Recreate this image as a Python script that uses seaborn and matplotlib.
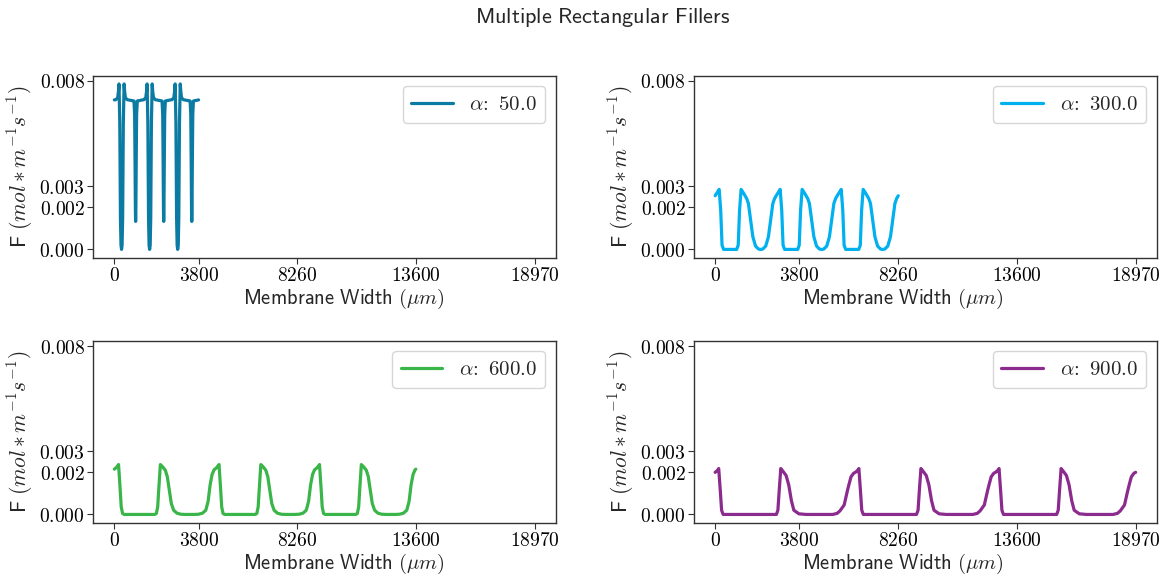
import matplotlib
matplotlib.use("Agg")
import matplotlib.pyplot as plt
import seaborn as sns
import pandas as pd
from matplotlib.ticker import FixedLocator, FixedFormatter

# ---------------- data ----------------
alphas = [50.0, 300.0, 600.0, 900.0]
colors = ["#0b7ba3", "#00b0ef", "#3ab54a", "#8a2b8d"]

x_ticks = [0, 3800, 8260, 13600, 18970]
y_ticks = [0.000, 0.002, 0.003, 0.008]
x_tick_labels = ["0", "3800", "8260", "13600", "18970"]
y_tick_labels = ["0.000", "0.002", "0.003", "0.008"]

x_a50 = [0, 65, 150, 185, 210, 245, 275, 300, 325, 350, 375, 405, 440, 465, 500, 585,
         885, 915, 935, 950, 960, 970, 985, 1005, 1035,
         1267, 1332, 1417, 1452, 1477, 1512, 1542, 1567, 1592, 1617, 1642, 1672, 1707, 1732, 1767, 1852,
         2152, 2182, 2202, 2217, 2227, 2237, 2252, 2272, 2302,
         2533, 2598, 2683, 2718, 2743, 2778, 2808, 2833, 2858, 2883, 2908, 2938, 2973, 2998, 3033, 3118,
         3418, 3448, 3468, 3483, 3493, 3503, 3518, 3538, 3568, 3800]
F_a50 = [0.00710, 0.00711, 0.00720, 0.00750, 0.00786, 0.00600, 0.00150, 0.00020, 0.00000, 0.00020, 0.00150, 0.00600, 0.00786, 0.00750, 0.00720, 0.00711,
         0.00705, 0.00640, 0.00400, 0.00180, 0.00133, 0.00180, 0.00400, 0.00640, 0.00705,
         0.00710, 0.00711, 0.00720, 0.00750, 0.00786, 0.00600, 0.00150, 0.00020, 0.00000, 0.00020, 0.00150, 0.00600, 0.00786, 0.00750, 0.00720, 0.00711,
         0.00705, 0.00640, 0.00400, 0.00180, 0.00133, 0.00180, 0.00400, 0.00640, 0.00705,
         0.00710, 0.00711, 0.00720, 0.00750, 0.00786, 0.00600, 0.00150, 0.00020, 0.00000, 0.00020, 0.00150, 0.00600, 0.00786, 0.00750, 0.00720, 0.00711,
         0.00705, 0.00640, 0.00400, 0.00180, 0.00133, 0.00180, 0.00400, 0.00640, 0.00705, 0.00710]

x_a300 = [0, 60, 120, 180, 250, 310, 380, 970, 1040, 1100, 1170, 1270, 1420, 1500, 1600, 1700, 1820, 1950, 2020,
          2082, 2152, 2282, 2402, 2502, 2602, 2682,
          2753, 2813, 2873, 2933, 3003, 3063, 3133, 3723, 3793, 3853, 3923, 4023, 4173, 4253, 4353, 4453, 4573, 4703, 4773,
          4835, 4905, 5035, 5155, 5255, 5355, 5435,
          5507, 5567, 5627, 5687, 5757, 5817, 5887, 6477, 6547, 6607, 6677, 6777, 6927, 7007, 7107, 7207, 7327, 7457, 7527,
          7589, 7659, 7789, 7909, 8009, 8109, 8189, 8260]
F_a300 = [0.00255, 0.00265, 0.00275, 0.00285, 0.00186, 0.00020, 0.00000, 0.00000, 0.00020, 0.00186, 0.00285, 0.00269, 0.00242, 0.00218, 0.00139, 0.00060, 0.00016, 0.00002, 0.00000,
          0.00000, 0.00002, 0.00016, 0.00060, 0.00139, 0.00218, 0.00242,
          0.00255, 0.00265, 0.00275, 0.00285, 0.00186, 0.00020, 0.00000, 0.00000, 0.00020, 0.00186, 0.00285, 0.00269, 0.00242, 0.00218, 0.00139, 0.00060, 0.00016, 0.00002, 0.00000,
          0.00000, 0.00002, 0.00016, 0.00060, 0.00139, 0.00218, 0.00242,
          0.00255, 0.00265, 0.00275, 0.00285, 0.00186, 0.00020, 0.00000, 0.00000, 0.00020, 0.00186, 0.00285, 0.00269, 0.00242, 0.00218, 0.00139, 0.00060, 0.00016, 0.00002, 0.00000,
          0.00000, 0.00002, 0.00016, 0.00060, 0.00139, 0.00218, 0.00242, 0.00255]

x_a600 = [0, 80, 140, 190, 265, 310, 370, 440, 1826, 1896, 1956, 2001, 2076, 2180, 2300, 2390, 2480, 2570, 2675, 2825, 3000, 3200,
          3600, 3800, 3975, 4125, 4230, 4320, 4410, 4500,
          4533, 4613, 4673, 4723, 4798, 4843, 4903, 4973, 6359, 6429, 6489, 6534, 6609, 6713, 6833, 6923, 7013, 7103, 7208, 7358, 7533, 7733,
          8133, 8333, 8508, 8658, 8763, 8853, 8943, 9033,
          9067, 9147, 9207, 9257, 9332, 9377, 9437, 9507, 10893, 10963, 11023, 11068, 11143, 11247, 11367, 11457, 11547, 11637, 11742, 11892, 12067, 12267,
          12667, 12867, 13042, 13192, 13297, 13387, 13477, 13567, 13600]
F_a600 = [0.00215, 0.00222, 0.00230, 0.00237, 0.00115, 0.00036, 0.00005, 0.00000, 0.00000, 0.00005, 0.00036, 0.00115, 0.00237, 0.00226, 0.00210, 0.00179, 0.00115, 0.00052, 0.00020, 0.00006, 0.00001, 0.00000,
          0.00000, 0.00001, 0.00006, 0.00020, 0.00062, 0.00140, 0.00190, 0.00212,
          0.00215, 0.00222, 0.00230, 0.00237, 0.00115, 0.00036, 0.00005, 0.00000, 0.00000, 0.00005, 0.00036, 0.00115, 0.00237, 0.00226, 0.00210, 0.00179, 0.00115, 0.00052, 0.00020, 0.00006, 0.00001, 0.00000,
          0.00000, 0.00001, 0.00006, 0.00020, 0.00062, 0.00140, 0.00190, 0.00212,
          0.00215, 0.00222, 0.00230, 0.00237, 0.00115, 0.00036, 0.00005, 0.00000, 0.00000, 0.00005, 0.00036, 0.00115, 0.00237, 0.00226, 0.00210, 0.00179, 0.00115, 0.00052, 0.00020, 0.00006, 0.00001, 0.00000,
          0.00000, 0.00001, 0.00006, 0.00020, 0.00062, 0.00140, 0.00190, 0.00212, 0.00215]

x_a900 = [0, 80, 130, 160, 230, 290, 360, 2760, 2830, 2890, 2960, 3080, 3200, 3320, 3440, 3550, 3780, 4100,
          5300, 5500, 5630, 5820, 5960, 6030, 6130, 6250,
          6323, 6403, 6453, 6483, 6553, 6613, 6683, 9083, 9153, 9213, 9283, 9403, 9523, 9643, 9763, 9873, 10103, 10423,
          11623, 11823, 11953, 12143, 12283, 12353, 12453, 12573,
          12647, 12727, 12777, 12807, 12877, 12937, 13007, 15407, 15477, 15537, 15607, 15727, 15847, 15967, 16087, 16197, 16427, 16747,
          17947, 18147, 18277, 18467, 18607, 18677, 18777, 18897, 18970]
F_a900 = [0.00200, 0.00207, 0.00213, 0.00218, 0.00115, 0.00020, 0.00000, 0.00000, 0.00020, 0.00115, 0.00218, 0.00202, 0.00185, 0.00140, 0.00065, 0.00020, 0.00003, 0.00000,
          0.00000, 0.00005, 0.00017, 0.00045, 0.00110, 0.00140, 0.00179, 0.00196,
          0.00200, 0.00207, 0.00213, 0.00218, 0.00115, 0.00020, 0.00000, 0.00000, 0.00020, 0.00115, 0.00218, 0.00202, 0.00185, 0.00140, 0.00065, 0.00020, 0.00003, 0.00000,
          0.00000, 0.00005, 0.00017, 0.00045, 0.00110, 0.00140, 0.00179, 0.00196,
          0.00200, 0.00207, 0.00213, 0.00218, 0.00115, 0.00020, 0.00000, 0.00000, 0.00020, 0.00115, 0.00218, 0.00202, 0.00185, 0.00140, 0.00065, 0.00020, 0.00003, 0.00000,
          0.00000, 0.00005, 0.00017, 0.00045, 0.00110, 0.00140, 0.00179, 0.00196, 0.00200]

series_x = [x_a50, x_a300, x_a600, x_a900]
series_F = [F_a50, F_a300, F_a600, F_a900]

title = r"$\mathsf{Multiple\ Rectangular\ Fillers}$"
xlabel = r"$\mathsf{Membrane\ Width}\ (\mu m)$"
ylabel = r"$\mathsf{F}\ (mol*m^{-1}s^{-1})$"

# ---------------- style ----------------
sns.set_style("ticks")
plt.rcParams["mathtext.fontset"] = "cm"
plt.rcParams["font.family"] = ["DejaVu Sans"]
plt.rcParams["axes.edgecolor"] = "#333333"
plt.rcParams["axes.linewidth"] = 1.0
plt.rcParams["xtick.color"] = "#333333"
plt.rcParams["ytick.color"] = "#333333"
plt.rcParams["xtick.labelcolor"] = "black"
plt.rcParams["ytick.labelcolor"] = "black"
plt.rcParams["xtick.major.size"] = 4
plt.rcParams["ytick.major.size"] = 4
plt.rcParams["xtick.major.pad"] = 2
plt.rcParams["ytick.major.pad"] = 2

fig, axes = plt.subplots(2, 2, figsize=(11.68, 5.81), dpi=100)
fig.subplots_adjust(left=0.0799, right=0.9903, bottom=0.1003, top=0.8698, wspace=0.299, hspace=0.456)
ref = axes[0, 0]
for ax in axes.flat[1:]:
    ax.sharex(ref)
    ax.sharey(ref)

label_x = [0.541, 0.451, 0.541, 0.451]

for ax, a, c, xs, fs, lx in zip(axes.flat, alphas, colors, series_x, series_F, label_x):
    df = pd.DataFrame({"x": xs, "F": fs})
    sns.lineplot(data=df, x="x", y="F", ax=ax, color=c, linewidth=2.3,
                 estimator=None, sort=False, label=r"$\alpha\!\mathsf{:\ %.1f}$" % a)
    ax.xaxis.set_major_locator(FixedLocator(x_ticks))
    ax.xaxis.set_major_formatter(FixedFormatter(["$%s$" % t for t in x_tick_labels]))
    ax.yaxis.set_major_locator(FixedLocator(y_ticks))
    ax.yaxis.set_major_formatter(FixedFormatter(["$%s$" % t for t in y_tick_labels]))
    ax.tick_params(labelbottom=True, labelleft=True, labelsize=14)
    ax.set_xlabel(xlabel, fontsize=14.8, labelpad=1)
    ax.xaxis.label.set_x(lx)
    ax.set_ylabel(ylabel, fontsize=15.5, labelpad=3)
    ax.legend(loc="upper right", fontsize=15)

fig.suptitle(title, x=0.516, y=0.99, fontsize=16)

fig.savefig("out.png", dpi=100)
